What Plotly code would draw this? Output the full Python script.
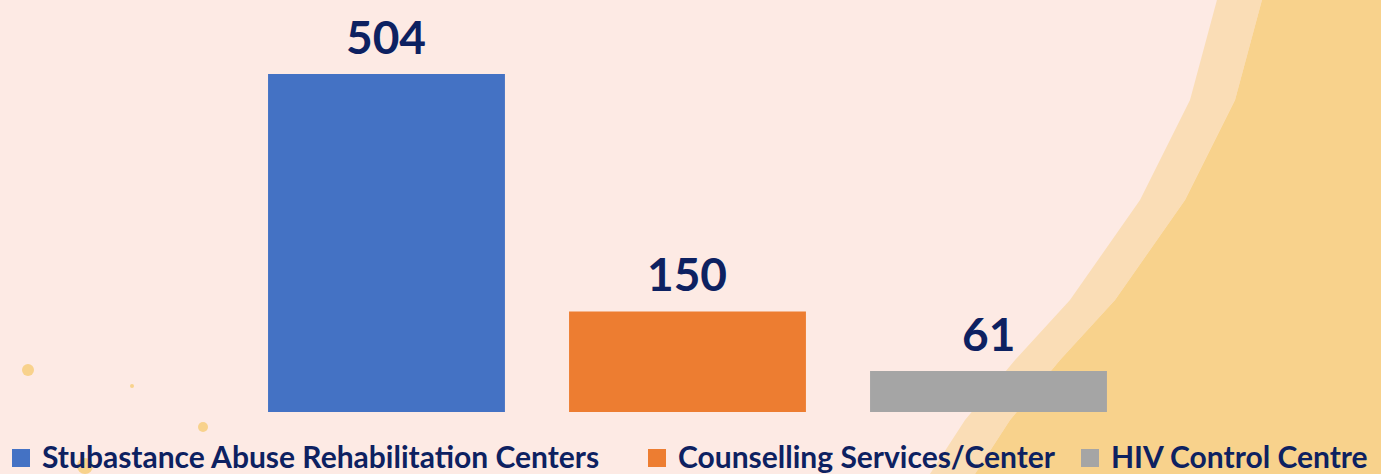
import plotly.graph_objects as go

categories = ["Stubastance Abuse Rehabilitation Centers", "Counselling Services/Center", "HIV Control Centre"]
values = [504, 150, 61]
colors = ["#4472C4", "#ED7D31", "#A5A5A5"]

W, H = 1381, 474
PLOT_BOTTOM = 412  # pixel row of the plot-area bottom
NAVY = "#0D2161"

def px(x):
    return x / W

def py(y):
    return (PLOT_BOTTOM - y) / PLOT_BOTTOM

fig = go.Figure()
for i, (c, v, col) in enumerate(zip(categories, values, colors)):
    fig.add_trace(go.Bar(
        x=[i], y=[v], name=c, marker=dict(color=col, line=dict(width=0)),
        width=0.787, showlegend=False, hoverinfo="name+y",
    ))

annotations = []
for i, v in enumerate(values):
    annotations.append(dict(x=i, y=v, xref="x", yref="y", text=str(v), showarrow=False,
                            yanchor="bottom", yshift=8,
                            font=dict(family="Lato", size=46, color=NAVY, weight="bold")))

# decorative painted background (pixel points converted to paper coords)
edge = [(1262, 0), (1235, 100), (1185, 200), (1115, 300), (1060, 360), (1010, 420), (975, 474)]
band = [(x - 45, y) for (x, y) in edge]

def path_from(points_left, right_closing):
    pts = points_left + right_closing
    return "M " + " L ".join(f"{px(x):.4f} {py(y):.4f}" for x, y in pts) + " Z"

main_path = path_from(edge, [(W, 474), (W, 0)])
band_path = path_from(band, list(reversed(edge)))
shapes = [
    dict(type="path", xref="paper", yref="paper", path=band_path, fillcolor="#FADDB6",
         line=dict(width=0), layer="below"),
    dict(type="path", xref="paper", yref="paper", path=main_path, fillcolor="#F8D28C",
         line=dict(width=0), layer="below"),
]
for (cx, cy, r) in [(28, 370, 6), (203, 427, 5), (132, 386, 2), (85, 466, 8)]:
    shapes.append(dict(type="circle", xref="paper", yref="paper",
                       x0=px(cx - r), x1=px(cx + r), y0=py(cy + r), y1=py(cy - r),
                       fillcolor="#F8D28C", line=dict(width=0), layer="below"))

# custom legend
legend_sq = [12, 648, 1081]
legend_tx = [40, 676, 1109]
for name, col, sx, tx in zip(categories, colors, legend_sq, legend_tx):
    shapes.append(dict(type="rect", xref="paper", yref="paper",
                       x0=px(sx), x1=px(sx + 18), y0=py(467), y1=py(449),
                       fillcolor=col, line=dict(width=0)))
    annotations.append(dict(x=px(tx), y=py(456), xref="paper", yref="paper", text=name,
                            showarrow=False, xanchor="left", yanchor="middle",
                            font=dict(family="Lato", size=30, color=NAVY, weight="bold")))

fig.update_layout(
    width=W, height=H,
    margin=dict(l=0, r=0, t=0, b=H - PLOT_BOTTOM),
    paper_bgcolor="#FDEAE4", plot_bgcolor="rgba(0,0,0,0)",
    barmode="overlay",
    xaxis=dict(range=[-1.284, 3.304], visible=False, fixedrange=True),
    yaxis=dict(range=[0, 614.4], visible=False, fixedrange=True),
    showlegend=False,
    shapes=shapes,
    annotations=annotations,
    font=dict(family="Lato"),
)
fig.write_html("out.html", config={"displayModeBar": False},
               post_script="document.body.style.margin='0';")
